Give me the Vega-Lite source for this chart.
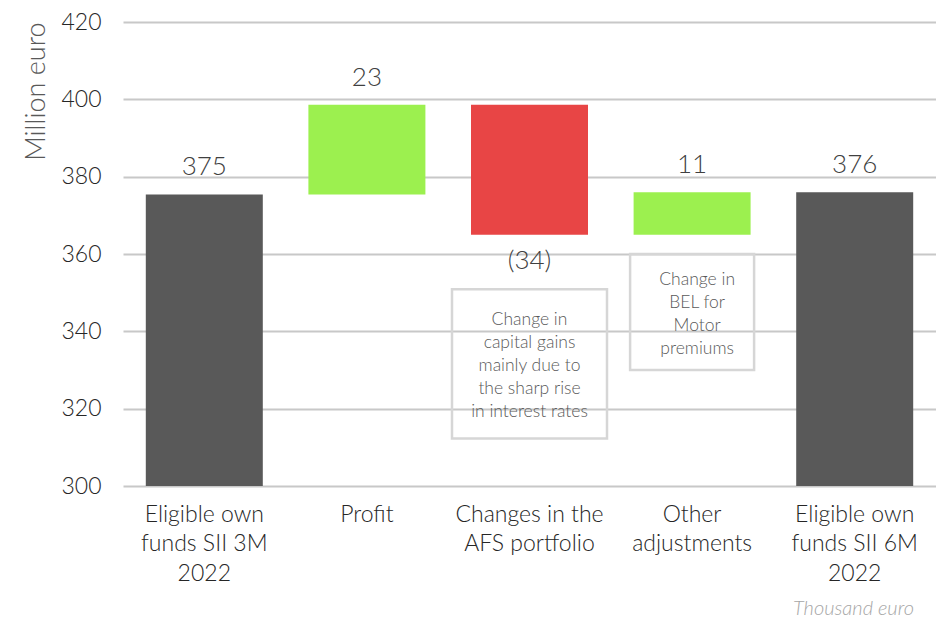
{
  "$schema": "https://vega.github.io/schema/vega-lite/v6.json",
  "width": 813,
  "height": 464,
  "autosize": {"type": "none"},
  "padding": {"left": 123, "top": 22, "right": 0, "bottom": 132},
  "background": "white",
  "config": {
    "view": {"stroke": null},
    "font": "Lato",
    "text": {"font": "Lato"}
  },
  "title": {
    "text": "Thousand euro",
    "orient": "bottom",
    "anchor": "end",
    "fontStyle": "italic",
    "fontWeight": 300,
    "fontSize": 20,
    "color": "#a6a6a6",
    "offset": 14,
    "dx": -22
  },
  "datasets": {
    "steps": [
      {"category": "Eligible own funds SII 3M 2022", "start": 0, "end": 375.4, "label": "375", "kind": "total"},
      {"category": "Profit", "start": 375.4, "end": 398.6, "label": "23", "kind": "increase"},
      {"category": "Changes in the AFS portfolio", "start": 398.6, "end": 365.0, "label": "(34)", "kind": "decrease"},
      {"category": "Other adjustments", "start": 365.0, "end": 376.0, "label": "11", "kind": "increase"},
      {"category": "Eligible own funds SII 6M 2022", "start": 0, "end": 376.0, "label": "376", "kind": "total"}
    ],
    "notes": [
      {"category": "Changes in the AFS portfolio", "low": 312.3, "high": 350.9, "first_line": 342.9, "note": "Change in\ncapital gains\nmainly due to\nthe sharp rise\nin interest rates"},
      {"category": "Other adjustments", "low": 330.0, "high": 360.0, "first_line": 353.3, "note": "Change in\nBEL for\nMotor\npremiums"}
    ]
  },
  "encoding": {
    "x": {
      "field": "category",
      "type": "nominal",
      "sort": null,
      "scale": {
        "domain": ["Eligible own funds SII 3M 2022", "Profit", "Changes in the AFS portfolio", "Other adjustments", "Eligible own funds SII 6M 2022"],
        "paddingInner": 0.28,
        "paddingOuter": 0.14
      },
      "axis": {
        "title": null,
        "labelAngle": 0,
        "labelExpr": "datum.label == 'Eligible own funds SII 3M 2022' ? ['Eligible own', 'funds SII 3M', '2022'] : datum.label == 'Eligible own funds SII 6M 2022' ? ['Eligible own', 'funds SII 6M', '2022'] : datum.label == 'Changes in the AFS portfolio' ? ['Changes in the', 'AFS portfolio'] : datum.label == 'Other adjustments' ? ['Other', 'adjustments'] : datum.label",
        "labelFontSize": 23,
        "labelFont": "Lato",
        "labelFontWeight": 300,
        "labelColor": "#262626",
        "labelLineHeight": 29.5,
        "labelPadding": 17,
        "ticks": false,
        "domain": false,
        "labelBaseline": "top"
      }
    }
  },
  "layer": [
    {
      "data": {"name": "steps"},
      "mark": {"type": "bar", "size": 117},
      "encoding": {
        "y": {
          "field": "start",
          "type": "quantitative",
          "scale": {"domain": [300, 420], "clamp": true, "nice": false, "zero": false},
          "axis": {
            "title": "Million euro",
            "titleFontSize": 27,
            "titleFontWeight": 300,
            "titleFont": "Lato",
            "titleColor": "#595959",
            "titleAnchor": "end",
            "titlePadding": 10,
            "values": [300, 320, 340, 360, 380, 400, 420],
            "labelFontSize": 23,
            "labelFont": "Lato",
            "labelFontWeight": 300,
            "labelColor": "#262626",
            "labelPadding": 22,
            "ticks": false,
            "domain": false,
            "grid": true,
            "gridColor": "#c8c8c8",
            "gridWidth": 2
          }
        },
        "y2": {"field": "end"},
        "color": {
          "field": "kind",
          "type": "nominal",
          "scale": {"domain": ["total", "increase", "decrease"], "range": ["#595959", "#9cf04f", "#e84545"]},
          "legend": null
        }
      }
    },
    {
      "data": {"name": "steps"},
      "transform": [{"filter": "datum.kind != 'decrease'"}],
      "mark": {"type": "text", "baseline": "bottom", "dy": -14, "fontSize": 26, "fontWeight": 300, "color": "#404040"},
      "encoding": {
        "y": {"field": "end", "type": "quantitative"},
        "text": {"field": "label"}
      }
    },
    {
      "data": {"name": "steps"},
      "transform": [{"filter": "datum.kind == 'decrease'"}],
      "mark": {"type": "text", "baseline": "top", "dy": 13, "fontSize": 26, "fontWeight": 300, "color": "#404040"},
      "encoding": {
        "y": {"field": "end", "type": "quantitative"},
        "text": {"field": "label"}
      }
    },
    {
      "data": {"name": "notes"},
      "transform": [{"filter": "datum.category == 'Changes in the AFS portfolio'"}],
      "mark": {"type": "bar", "fill": null, "fillOpacity": 0, "stroke": "#d6d6d6", "strokeWidth": 2.5, "size": 155},
      "encoding": {
        "y": {"field": "low", "type": "quantitative"},
        "y2": {"field": "high"}
      }
    },
    {
      "data": {"name": "notes"},
      "transform": [{"filter": "datum.category == 'Other adjustments'"}],
      "mark": {"type": "bar", "fill": null, "fillOpacity": 0, "stroke": "#d6d6d6", "strokeWidth": 2.5, "size": 124},
      "encoding": {
        "x": {"field": "category", "type": "nominal", "bandPosition": 0.543},
        "y": {"field": "low", "type": "quantitative"},
        "y2": {"field": "high"}
      }
    },
    {
      "data": {"name": "notes"},
      "transform": [{"filter": "datum.category == 'Changes in the AFS portfolio'"}],
      "mark": {"type": "text", "baseline": "middle", "lineBreak": "\n", "fontSize": 17.5, "fontWeight": 300, "color": "#595959", "lineHeight": 23},
      "encoding": {
        "y": {"field": "first_line", "type": "quantitative"},
        "text": {"field": "note"}
      }
    },
    {
      "data": {"name": "notes"},
      "transform": [{"filter": "datum.category == 'Other adjustments'"}],
      "mark": {"type": "text", "baseline": "middle", "lineBreak": "\n", "fontSize": 17.5, "fontWeight": 300, "color": "#595959", "lineHeight": 23},
      "encoding": {
        "x": {"field": "category", "type": "nominal", "bandPosition": 0.543},
        "y": {"field": "first_line", "type": "quantitative"},
        "text": {"field": "note"}
      }
    }
  ]
}
